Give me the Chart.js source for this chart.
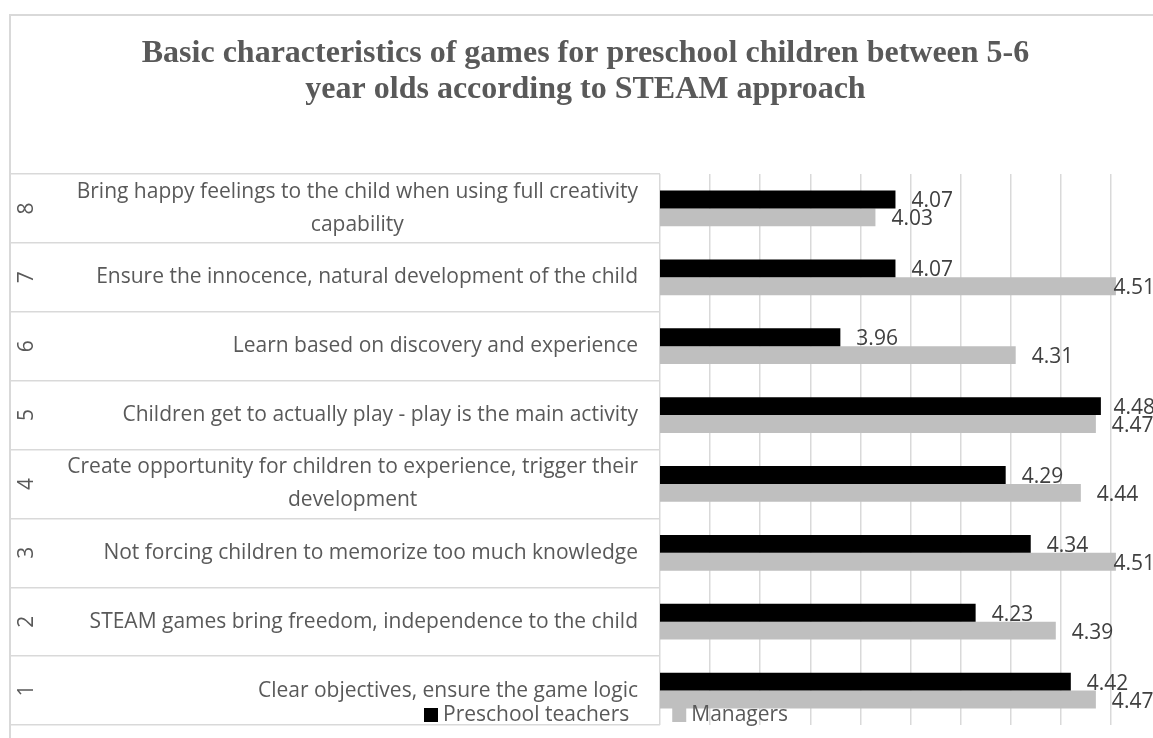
<!DOCTYPE html>
<html>
<head>
<meta charset="utf-8">
<script src="https://cdn.jsdelivr.net/npm/chart.js@4.4.1/dist/chart.umd.min.js"></script>
<style>
  html, body { margin: 0; padding: 0; background: #fff; overflow: hidden; }
  #frame { position: absolute; left: 9px; top: 14px; width: 1180px; height: 800px;
           border: 2px solid #d9d9d9; box-sizing: border-box; }
  #wrap { position: absolute; left: 0; top: 0; width: 1165px; height: 738px; }
</style>
</head>
<body>
<div id="frame"></div>
<div id="wrap"><canvas id="barChart"></canvas></div>
<script>
// categories, bottom (1) to top (8)
const categoryNo = ['1', '2', '3', '4', '5', '6', '7', '8'];
const categoryText = [
  ['Clear objectives, ensure the game logic'],
  ['STEAM games bring freedom, independence to the child'],
  ['Not forcing children to memorize too much knowledge'],
  ['Create opportunity for children to experience, trigger their', 'development'],
  ['Children get to actually play - play is the main activity'],
  ['Learn based on discovery and experience'],
  ['Ensure the innocence, natural development of the child'],
  ['Bring happy feelings to the child when using full creativity', 'capability']
];
const seriesNames = ['Preschool teachers', 'Managers'];
const teachers = [4.42, 4.23, 4.34, 4.29, 4.48, 3.96, 4.07, 4.07];
const managers = [4.47, 4.39, 4.51, 4.44, 4.47, 4.31, 4.51, 4.03];
const xMin = 3.6, xMax = 4.6, xStep = 0.1;

const GRID = '#d9d9d9';
const TEXT = '#595959';

// value labels at the end of each bar
const valueLabels = {
  id: 'valueLabels',
  afterDatasetsDraw(chart) {
    const { ctx } = chart;
    ctx.save();
    ctx.font = '21px "Open Sans"';
    ctx.fillStyle = '#404040';
    ctx.textAlign = 'left';
    ctx.textBaseline = 'middle';
    chart.data.datasets.forEach((ds, di) => {
      chart.getDatasetMeta(di).data.forEach((bar, i) => {
        const txt = ds.data[i].toFixed(2);
        const w = ctx.measureText(txt).width;
        let x = bar.x + 16;
        if (x + w > 1155) x = 1155 - w;   // keep inside like excel does
        ctx.fillText(txt, x, bar.y + 2);
      });
    });
    ctx.restore();
  }
};

// two level category labels + legend
const sideLabels = {
  id: 'sideLabels',
  afterDraw(chart) {
    const { ctx } = chart;
    const y = chart.scales.y;
    ctx.save();
    ctx.fillStyle = TEXT;
    ctx.textBaseline = 'middle';
    categoryText.forEach((lines, i) => {
      const yc = y.getPixelForValue(i);
      ctx.font = '21px "Open Sans"';
      const maxW = Math.max(...lines.map(l => ctx.measureText(l).width));
      const cx = 638 - maxW / 2;
      const lh = 33;
      const y0 = yc - (lines.length - 1) * lh / 2;
      ctx.textAlign = 'center';
      lines.forEach((l, k) => ctx.fillText(l, cx, y0 + k * lh));
      // rotated number
      ctx.save();
      ctx.translate(27, yc);
      ctx.rotate(-Math.PI / 2);
      ctx.font = '21px "Open Sans"';
      ctx.fillText(categoryNo[i], 0, 0);
      ctx.restore();
    });

    // legend
    ctx.font = '21px "Open Sans"';
    ctx.textAlign = 'left';
    let lx = 424;
    const ly = 715;
    chart.data.datasets.forEach((ds, di) => {
      ctx.fillStyle = ds.backgroundColor;
      ctx.fillRect(lx, ly - 7, 14, 14);
      ctx.fillStyle = TEXT;
      ctx.fillText(ds.label, lx + 19, ly);
      lx += 19 + ctx.measureText(ds.label).width + 43;
    });
    ctx.restore();
  }
};

new Chart(document.getElementById('barChart'), {
  type: 'bar',
  data: {
    labels: categoryNo,
    datasets: [
      { label: seriesNames[0], data: teachers, backgroundColor: '#000000' },
      { label: seriesNames[1], data: managers, backgroundColor: '#bfbfbf' }
    ]
  },
  options: {
    indexAxis: 'y',
    responsive: true,
    maintainAspectRatio: false,
    animation: false,
    events: [],
    categoryPercentage: 0.52,
    barPercentage: 1.0,
    layout: { padding: { left: 10, right: 4, top: 0, bottom: 13 } },
    plugins: {
      legend: { display: false },
      tooltip: { enabled: false },
      title: {
        display: true,
        text: ['Basic characteristics of games for preschool children between 5-6',
               'year olds according to STEAM approach'],
        color: TEXT,
        font: { family: '"Liberation Serif"', size: 32, weight: 'bold', lineHeight: 1.125 },
        padding: { top: 36, bottom: 66 }
      }
    },
    scales: {
      x: {
        min: xMin,
        max: xMax,
        ticks: { display: false, stepSize: xStep },
        grid: { color: GRID, lineWidth: 1.5, drawTicks: false },
        border: { display: false }
      },
      y: {
        reverse: true,
        ticks: { display: false },
        grid: { drawOnChartArea: false, drawTicks: true, tickLength: 650, color: GRID, lineWidth: 1.5, offset: true },
        border: { display: false },
        afterFit(scale) { scale.width = 650; }
      }
    }
  },
  plugins: [valueLabels, sideLabels]
});
</script>
</body>
</html>
